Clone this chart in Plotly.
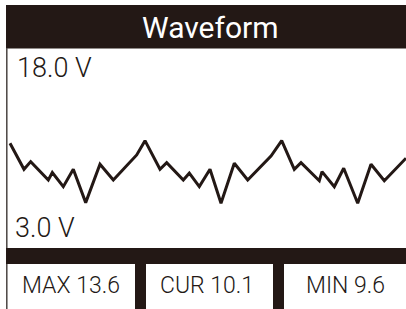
import plotly.graph_objects as go

# ---- data ----
t_ms = [10, 24, 30.7, 48.3, 52.3, 63.3, 73.3, 85.7, 100, 113.3, 136.7, 145, 160, 166.7,
        183.3, 189.3, 199.3, 210, 221, 234.3, 247.7, 271, 281.7, 294.3, 301, 319.3, 322,
        334.3, 343.7, 357.7, 371, 384.3, 406]
volts = [13.43, 11.77, 12.26, 11.09, 11.56, 10.66, 11.77, 9.64, 12.09, 11.09, 12.69, 13.6,
         11.77, 12.19, 11.09, 11.52, 10.66, 11.77, 9.6, 12.16, 11.09, 12.62, 13.6, 11.77,
         12.19, 11.04, 11.62, 10.66, 11.84, 9.6, 12.09, 11.04, 12.48]
title_text = "Waveform"
top_label = "18.0 V"
bottom_label = "3.0 V"
stat_labels = ["MAX 13.6", "CUR 10.1", "MIN 9.6"]

W, H = 406, 309
DARK = "#231815"

def px(x):
    return x / W

def py(y):
    return 1 - y / H

fig = go.Figure()
fig.add_trace(go.Scatter(x=t_ms, y=volts, mode="lines",
                         line=dict(color=DARK, width=3), hoverinfo="skip"))

shapes = [
    dict(type="rect", xref="paper", yref="paper", x0=px(6), x1=px(406), y0=py(48.5), y1=py(5),
         fillcolor=DARK, line=dict(width=0), layer="above"),
    dict(type="line", xref="paper", yref="paper", x0=px(6.8), x1=px(6.8), y0=py(309), y1=py(48),
         line=dict(color="#4a4442", width=1.5), layer="above"),
    dict(type="rect", xref="paper", yref="paper", x0=px(6), x1=px(406), y0=py(264), y1=py(248),
         fillcolor=DARK, line=dict(width=0), layer="above"),
    dict(type="rect", xref="paper", yref="paper", x0=px(135), x1=px(146), y0=py(309), y1=py(248),
         fillcolor=DARK, line=dict(width=0), layer="above"),
    dict(type="rect", xref="paper", yref="paper", x0=px(273), x1=px(284), y0=py(309), y1=py(248),
         fillcolor=DARK, line=dict(width=0), layer="above"),
]

num_font = "Roboto, sans-serif"
annotations = [
    dict(text=title_text, x=px(210.5), y=py(27.5), xref="paper", yref="paper", showarrow=False,
         xanchor="center", yanchor="middle", font=dict(family="Roboto", size=30, color="white")),
    dict(text=top_label, x=px(15), y=py(68.5), xref="paper", yref="paper", showarrow=False,
         xanchor="left", yanchor="middle",
         font=dict(family=num_font, size=27, color=DARK, weight=300)),
    dict(text=bottom_label, x=px(13), y=py(228), xref="paper", yref="paper", showarrow=False,
         xanchor="left", yanchor="middle",
         font=dict(family=num_font, size=27, color=DARK, weight=300)),
]
centers = [71.3, 207.3, 345.5]
for lab, cx in zip(stat_labels, centers):
    annotations.append(dict(text=lab, x=px(cx), y=py(285), xref="paper", yref="paper",
                            showarrow=False, xanchor="center", yanchor="middle",
                            font=dict(family=num_font, size=23, color=DARK, weight=300)))

fig.update_layout(
    width=W, height=H, margin=dict(l=0, r=0, t=0, b=0),
    paper_bgcolor="white", plot_bgcolor="white", showlegend=False,
    xaxis=dict(range=[0, 406], domain=[0, 1], visible=False, fixedrange=True),
    yaxis=dict(range=[6.74, 19.49], domain=[py(248), py(48.5)], visible=False, fixedrange=True),
    shapes=shapes, annotations=annotations,
)

fig.write_html("out.html", config={"displayModeBar": False},
               post_script="document.body.style.margin='0';document.body.style.overflow='hidden';")
